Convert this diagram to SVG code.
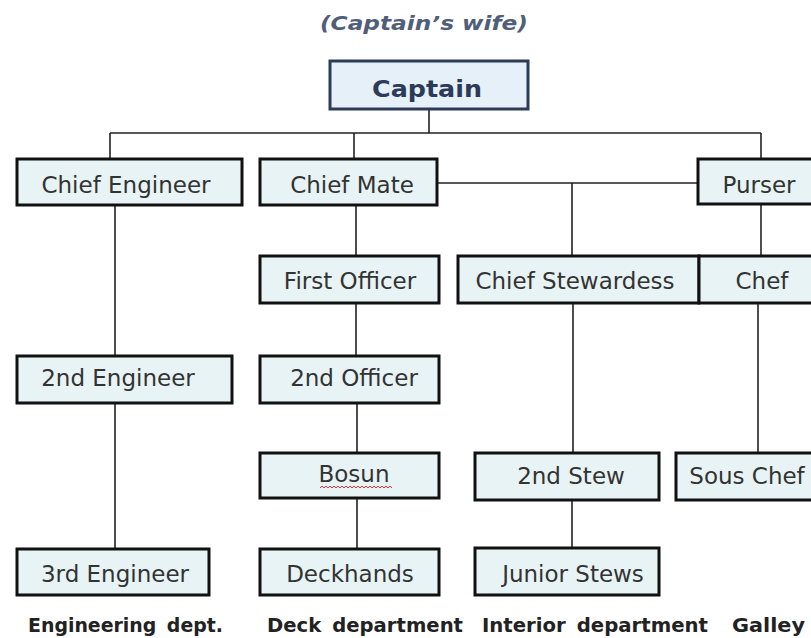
<svg xmlns="http://www.w3.org/2000/svg" width="811" height="638" viewBox="0 0 811 638">
<style>
.box{fill:#e8f3f5;stroke:#111;stroke-width:3}
.cap{fill:#e6f0f8;stroke:#2c3b58;stroke-width:3}
.lbl{font-family:"DejaVu Sans",Verdana,sans-serif;font-size:23px;fill:#333;text-anchor:middle}
.dept{font-family:"DejaVu Sans",Verdana,sans-serif;font-size:19px;font-weight:bold;fill:#222;word-spacing:4px}
#connectors path{fill:none;stroke:#222;stroke-width:1.6}
</style>
<rect width="811" height="638" fill="#fff"/>
<text x="424" y="30" font-family="DejaVu Sans,Verdana,sans-serif" font-size="19" font-weight="bold" font-style="italic" fill="#505e7a" text-anchor="middle" textLength="208" lengthAdjust="spacingAndGlyphs">(Captain’s wife)</text>
<g id="connectors">
<path d="M429 109V133M110 133H761M110 133V159M354 133V159M761 133V159"/>
<path d="M437 183H698M572 183V256"/>
<path d="M761 204V256"/>
<path d="M115 205V356M115 403V549"/>
<path d="M356 205V256M356 303V356M357 403V453M357 498V549"/>
<path d="M573 303V453M572 500V548"/>
<path d="M758 303V453"/>
</g>
<g id="captain"><rect class="cap" x="330" y="61" width="198" height="48"/><text x="427" y="97" font-family="DejaVu Sans,Verdana,sans-serif" font-size="23" font-weight="bold" fill="#2c3b58" text-anchor="middle" textLength="110" lengthAdjust="spacingAndGlyphs">Captain</text></g>
<g id="chief-engineer"><rect class="box" x="17" y="159" width="225" height="46"/><text class="lbl" x="126" y="193">Chief Engineer</text></g>
<g id="chief-mate"><rect class="box" x="260" y="159" width="177" height="46"/><text class="lbl" x="352" y="193">Chief Mate</text></g>
<g id="purser"><rect class="box" x="698" y="159" width="130" height="45"/><text class="lbl" x="759" y="193">Purser</text></g>
<g id="first-officer"><rect class="box" x="260" y="256" width="179" height="47"/><text class="lbl" x="350" y="289">First Officer</text></g>
<g id="chief-stewardess"><rect class="box" x="458" y="256" width="241" height="47"/><text class="lbl" x="575" y="289">Chief Stewardess</text></g>
<g id="chef"><rect class="box" x="699" y="256" width="130" height="47"/><text class="lbl" x="762" y="289">Chef</text></g>
<g id="second-engineer"><rect class="box" x="17" y="356" width="215" height="47"/><text class="lbl" x="118" y="386">2nd Engineer</text></g>
<g id="second-officer"><rect class="box" x="260" y="356" width="179" height="47"/><text class="lbl" x="354" y="386">2nd Officer</text></g>
<g id="bosun"><rect class="box" x="260" y="453" width="179" height="45"/><text class="lbl" x="354" y="482">Bosun</text><path d="M320 488l2 -2 2 2 2 -2 2 2 2 -2 2 2 2 -2 2 2 2 -2 2 2 2 -2 2 2 2 -2 2 2 2 -2 2 2 2 -2 2 2 2 -2 2 2 2 -2 2 2 2 -2 2 2 2 -2 2 2 2 -2 2 2 2 -2 2 2 2 -2 2 2 2 -2 2 2 2 -2 2 2" fill="none" stroke="#d33" stroke-width="1"/></g>
<g id="third-engineer"><rect class="box" x="17" y="549" width="192" height="46"/><text class="lbl" x="115" y="582">3rd Engineer</text></g>
<g id="deckhands"><rect class="box" x="260" y="549" width="179" height="46"/><text class="lbl" x="350" y="582">Deckhands</text></g>
<g id="second-stew"><rect class="box" x="475" y="453" width="184" height="47"/><text class="lbl" x="571" y="484">2nd Stew</text></g>
<g id="sous-chef"><rect class="box" x="676" y="453" width="150" height="47"/><text class="lbl" x="747" y="484">Sous Chef</text></g>
<g id="junior-stews"><rect class="box" x="475" y="548" width="184" height="47"/><text class="lbl" x="573" y="582">Junior Stews</text></g>
<text class="dept" x="28" y="632" textLength="195" lengthAdjust="spacingAndGlyphs">Engineering dept.</text>
<text class="dept" x="267" y="632" textLength="196" lengthAdjust="spacingAndGlyphs">Deck department</text>
<text class="dept" x="482" y="632" textLength="226" lengthAdjust="spacingAndGlyphs">Interior department</text>
<text class="dept" x="732" y="632" textLength="73" lengthAdjust="spacingAndGlyphs">Galley</text>
</svg>
